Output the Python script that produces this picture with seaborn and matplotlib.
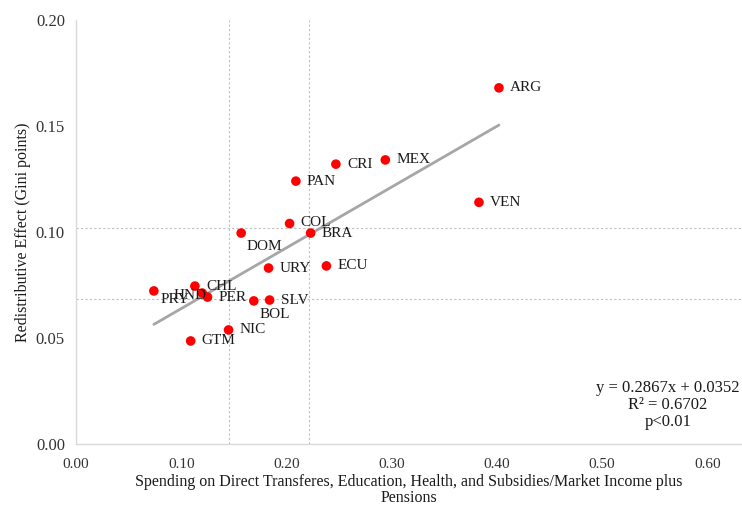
import numpy as np
import pandas as pd
import matplotlib
matplotlib.use("Agg")
import matplotlib.pyplot as plt
import seaborn as sns

# data
countries = ["ARG", "MEX", "CRI", "PAN", "VEN", "COL", "BRA", "DOM", "URY",
             "ECU", "CHL", "HND", "PRY", "PER", "SLV", "BOL", "NIC", "GTM"]
spending = [0.402, 0.294, 0.247, 0.209, 0.383, 0.203, 0.223, 0.157, 0.183,
            0.238, 0.113, 0.120, 0.074, 0.125, 0.184, 0.169, 0.145, 0.109]
effect = [0.168, 0.134, 0.132, 0.124, 0.114, 0.104, 0.0995, 0.0995, 0.083,
          0.084, 0.0745, 0.0712, 0.0722, 0.0693, 0.0679, 0.0675, 0.0538, 0.0486]
ref_x = [0.1454, 0.2215]
ref_y = [0.1019, 0.0684]
slope, intercept = 0.2867, 0.0352
x_ticks = [0.0, 0.1, 0.2, 0.3, 0.4, 0.5, 0.6]
y_ticks = [0.0, 0.05, 0.10, 0.15, 0.20]

df = pd.DataFrame({"country": countries, "x": spending, "y": effect})

sns.set_style("white")
plt.rcParams["font.family"] = ["Liberation Serif", "DejaVu Serif"]

fig = plt.figure(figsize=(7.42, 5.08), dpi=100)
ax = fig.add_axes([76 / 742, 64 / 508, 666 / 742, 424 / 508])

# dotted reference lines
for v in ref_x:
    ax.axvline(v, color="#BFBFBF", ls=(0, (2, 2)), lw=0.8, zorder=1)
for h in ref_y:
    ax.axhline(h, color="#BFBFBF", ls=(0, (2, 2)), lw=0.8, zorder=1)

# trendline
xs = np.array([min(spending), max(spending)])
ax.plot(xs, slope * xs + intercept, color="#A6A6A6", lw=2, zorder=2)

sns.scatterplot(data=df, x="x", y="y", ax=ax, color="#FF0000", s=48,
                edgecolor="none", zorder=3, legend=False)

# label offsets in points (dx, dy, ha)
offsets = {"PRY": (5, -6, "left"), "HND": (-9, -2, "center"),
           "DOM": (4, -10, "left"), "BOL": (4, -10, "left"),
           "COL": (8, 1, "left")}
for c, xv, yv in zip(countries, spending, effect):
    dx, dy, ha = offsets.get(c, (8, 0, "left"))
    ax.annotate(c, (xv, yv), xytext=(dx, dy), textcoords="offset points",
                ha=ha, va="center", fontsize=11, color="#1a1a1a", zorder=4)

ax.set_xlim(0, 0.633)
ax.set_ylim(0, 0.20)
ax.set_xticks(x_ticks)
ax.set_xticklabels([f"{t:.2f}" for t in x_ticks], fontsize=11)
ax.set_yticks(y_ticks)
ax.set_yticklabels([f"{t:.2f}" for t in y_ticks], fontsize=12)
ax.tick_params(length=0, pad=10, colors="#333333")
ax.tick_params(axis="y", pad=8)

for s in ["top", "right"]:
    ax.spines[s].set_visible(False)
for s in ["left", "bottom"]:
    ax.spines[s].set_color("#D9D9D9")
    ax.spines[s].set_linewidth(1)

ax.set_xlabel("Spending on Direct Transferes, Education, Health, and Subsidies/Market Income plus\nPensions",
              fontsize=11.5, color="#1a1a1a", labelpad=2, linespacing=1.05)
ax.set_ylabel("Redistributive Effect (Gini points)", fontsize=11.5,
              color="#1a1a1a", labelpad=3)

fig.text(668 / 742, 1 - 405 / 508, "y = 0.2867x + 0.0352\nR² = 0.6702\np<0.01",
         ha="center", va="center", multialignment="center", fontsize=12,
         color="#1a1a1a", linespacing=1.1)

fig.savefig("out.png", dpi=100)
